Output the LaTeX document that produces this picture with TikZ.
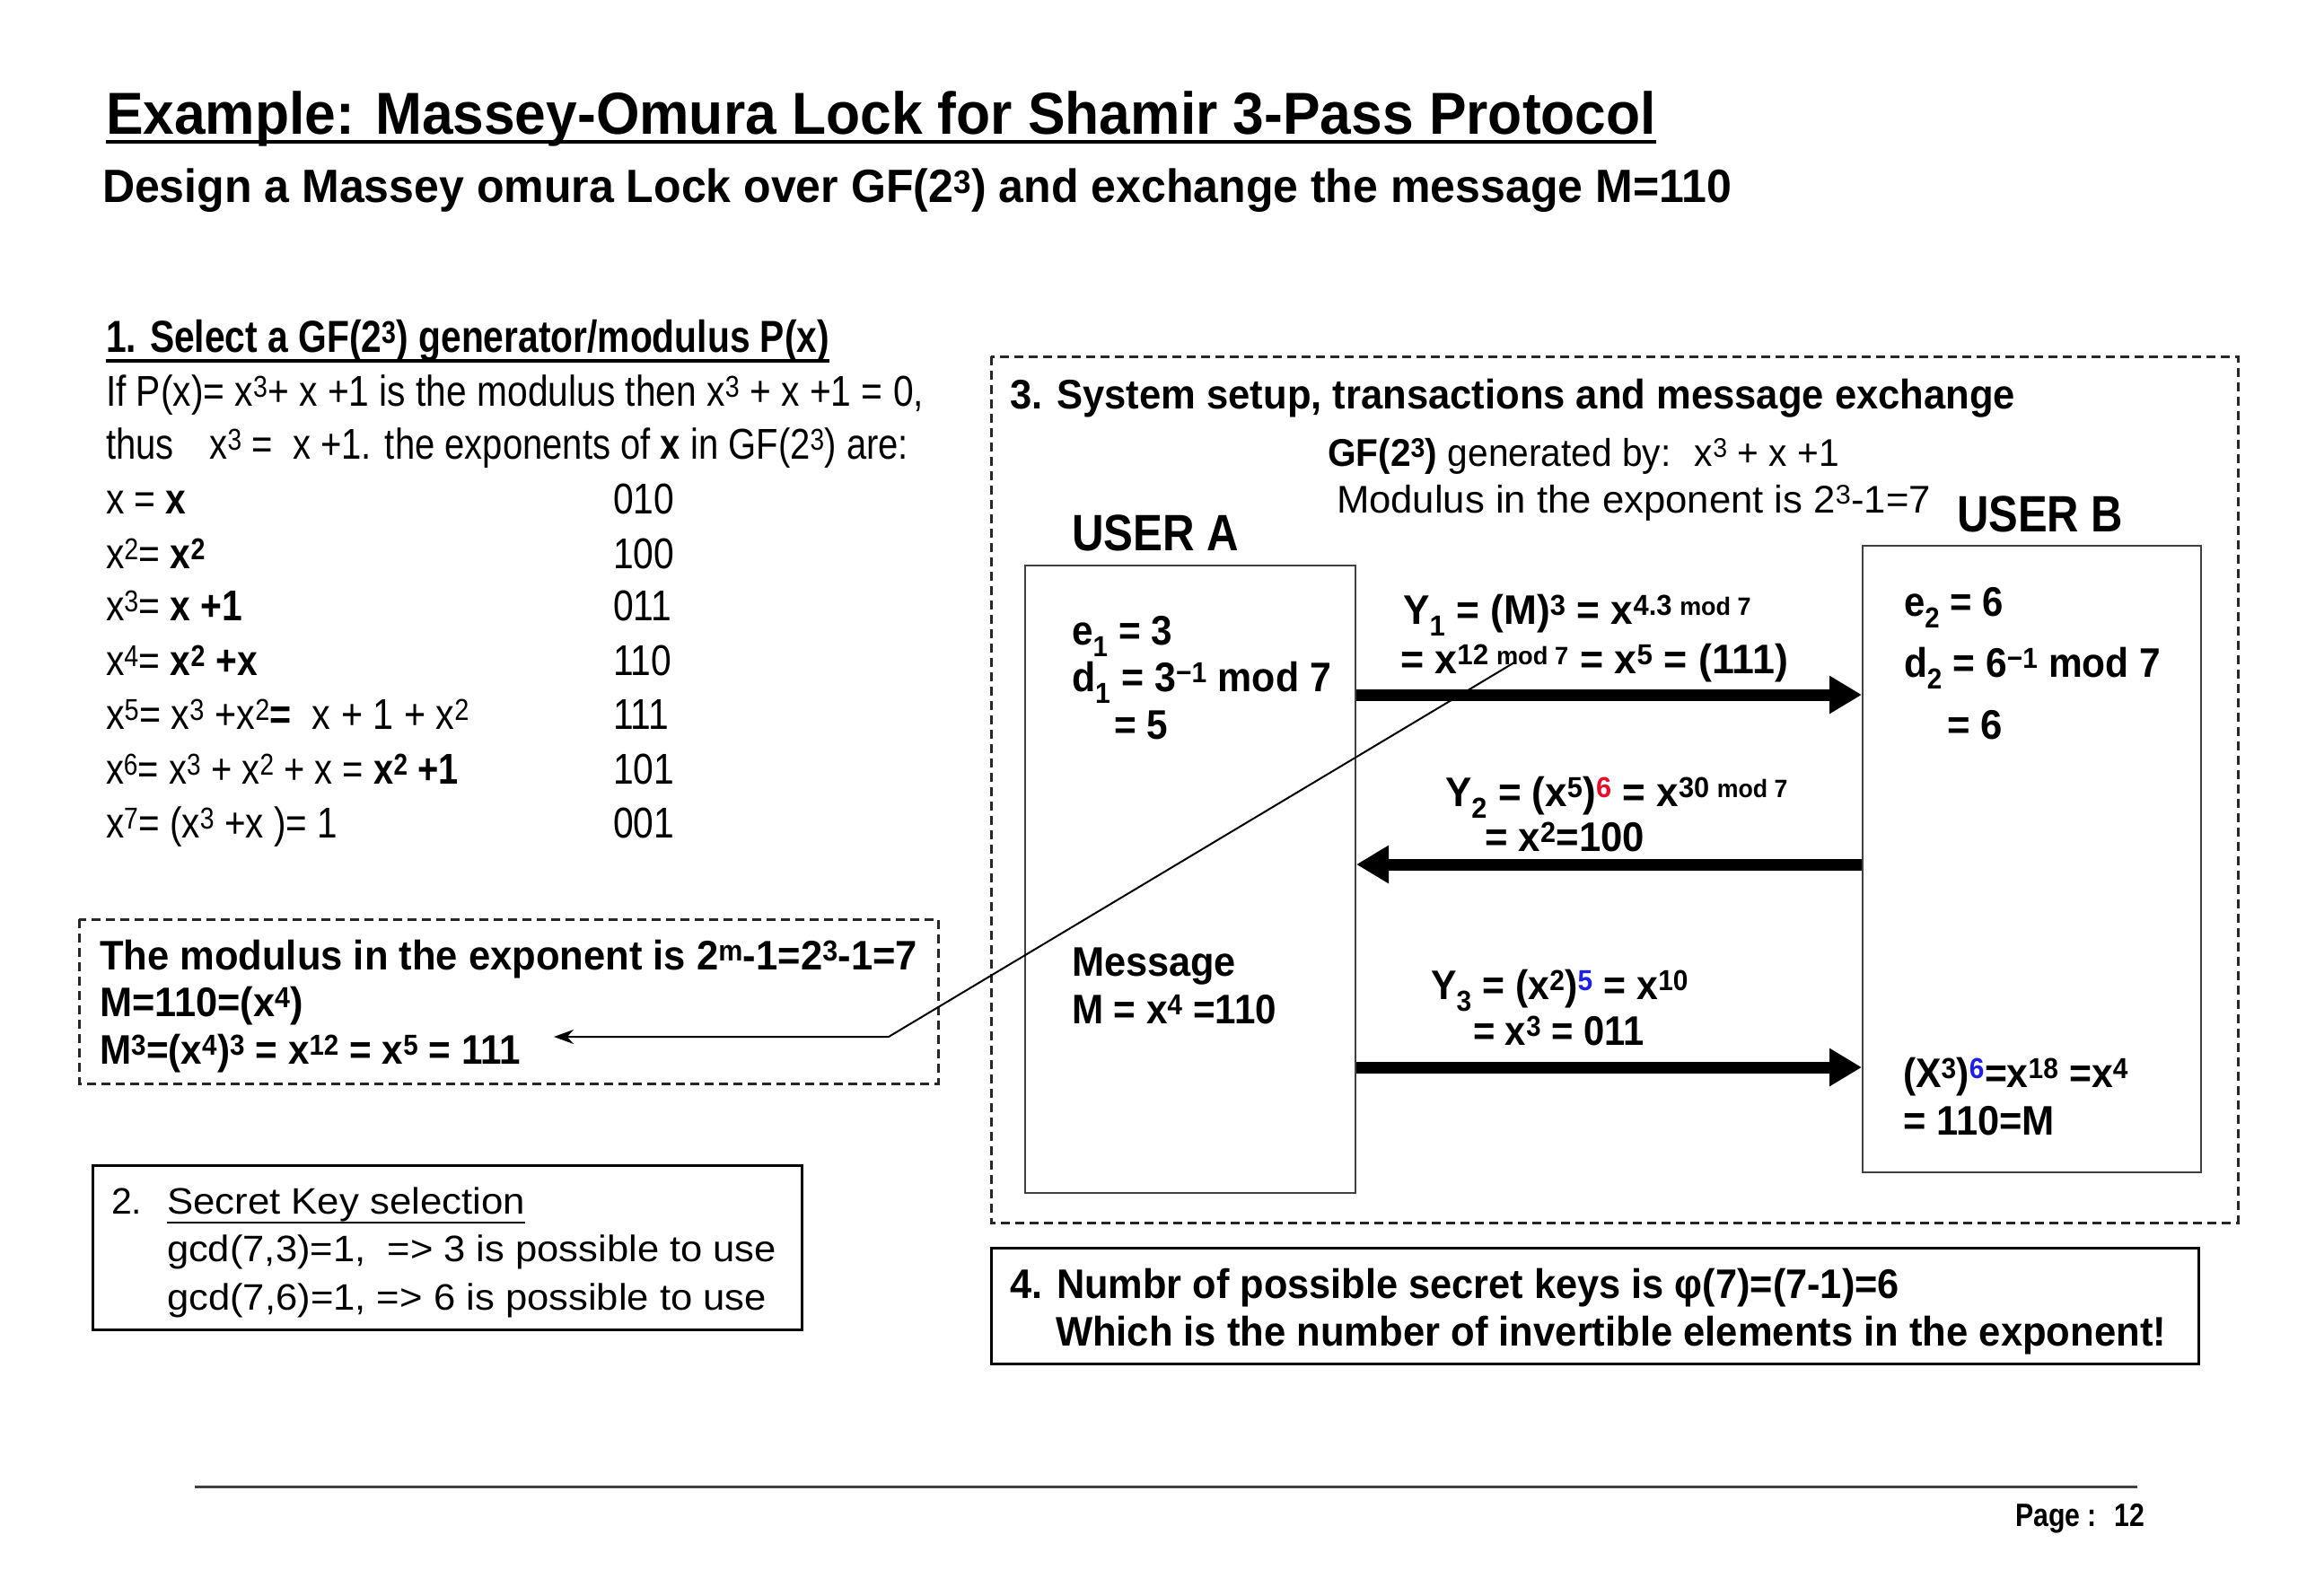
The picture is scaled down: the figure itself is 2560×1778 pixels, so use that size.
\documentclass[tikz,border=0pt]{standalone}
\usepackage{fontspec}
\usepackage{graphicx}
\setmainfont{Liberation Sans}
\newfontfamily\nar[FakeStretch=0.85]{Liberation Sans}
\usetikzlibrary{arrows.meta}
\newcommand{\fw}[2]{\resizebox{#1pt}{\height}{#2}}
\newcommand{\fs}[1]{\fontsize{#1}{#1}\selectfont}
\newcommand{\up}[1]{\textsuperscript{#1}}
\newcommand{\dn}[1]{\textsubscript{#1}}
\definecolor{rd}{HTML}{E0102F}
\definecolor{bl}{HTML}{2020E0}
\begin{document}
\begin{tikzpicture}[x=1pt,y=-1pt,
  txt/.style={anchor=base west, inner sep=0pt, outer sep=0pt},
  dbox/.style={draw=black!85, line width=3pt, dash pattern=on 10pt off 6pt},
  sbox/.style={draw=black, line width=3pt},
  ubox/.style={draw=black!75, line width=2pt, anchor=north west, inner sep=0pt},
  bigarrow/.style={line width=13pt, -{Triangle[length=36pt,width=40pt]}},
  link/.style={line width=2pt, -{Stealth[length=22pt,width=16pt]}}]
\useasboundingbox (0,0) rectangle (2560,1778);
\fill[white] (0,0) rectangle (2560,1778);

% title
\node[txt] (title) at (118,149) {\fs{66}\bfseries\fw{1727}{Example: Massey-Omura Lock for Shamir 3-Pass Protocol}};
\draw[line width=4.5pt] (118,158) -- (1845,158);
\node[txt] (subtitle) at (114,225) {\fs{52}\bfseries\fw{1815}{Design a Massey omura Lock over GF(2\up{3}) and exchange the message M=110}};

% section 1
\node[txt] (s1h) at (118,392) {\fs{50}\bfseries\fw{806}{1. Select a GF(2\up{3}) generator/modulus P(x)}};
\draw[line width=4pt] (118,402) -- (924,402);
\node[txt] (s1a) at (118,452) {\fs{48}\fw{911}{If P(x)= x\up{3}+ x +1 is the modulus then x\up{3} + x +1 = 0,}};
\node[txt] (s1b) at (118,511) {\fs{48}\fw{894}{thus\quad x\up{3} = \ x +1. the exponents of \textbf{x} in GF(2\up{3}) are:}};

\node[txt] (r1) at (118,572) {\nar\fs{48}x = \textbf{x}};
\node[txt] (r2) at (118,633) {\nar\fs{48}x\up{2}= \textbf{x\up{2}}};
\node[txt] (r3) at (118,691) {\nar\fs{48}x\up{3}= \textbf{x +1}};
\node[txt] (r4) at (118,752) {\nar\fs{48}x\up{4}= \textbf{x\up{2} +x}};
\node[txt] (r5) at (118,812) {\nar\fs{48}\fw{405}{x\up{5}= x\up{3} +x\up{2}\textbf{=} \ x + 1 + x\up{2}}};
\node[txt] (r6) at (118,873) {\nar\fs{48}\fw{393}{x\up{6}= x\up{3} + x\up{2} + x = \textbf{x\up{2} +1}}};
\node[txt] (r7) at (118,933) {\nar\fs{48}\fw{258}{x\up{7}= (x\up{3} +x )= 1}};
\node[txt] (v1) at (683,572) {\nar\fs{48}010};
\node[txt] (v2) at (683,633) {\nar\fs{48}100};
\node[txt] (v3) at (683,691) {\nar\fs{48}011};
\node[txt] (v4) at (683,752) {\nar\fs{48}110};
\node[txt] (v5) at (683,812) {\nar\fs{48}111};
\node[txt] (v6) at (683,873) {\nar\fs{48}101};
\node[txt] (v7) at (683,933) {\nar\fs{48}001};

% dashed box (modulus)
\draw[dbox] (88,1024) rectangle (1045,1207);
\node[txt] (m1) at (111,1080) {\fs{46}\bfseries\fw{911}{The modulus in the exponent is 2\up{m}-1=2\up{3}-1=7}};
\node[txt] (m2) at (111,1132) {\fs{46}\bfseries\fw{227}{M=110=(x\up{4})}};
\node[txt] (m3) at (111,1185) {\fs{46}\bfseries\fw{469}{M\up{3}=(x\up{4})\up{3} = x\up{12} = x\up{5} = 111}};

% box 2
\draw[sbox] (103,1298) rectangle (893,1481);
\node[txt] (k0) at (124,1352) {\fs{41}2.};
\node[txt] (k1) at (186,1352) {\fs{41}\fw{399}{Secret Key selection}};
\draw[line width=2.5pt] (186,1362) -- (585,1362);
\node[txt] (k2) at (186,1405) {\fs{41}\fw{679}{gcd(7,3)=1, \ => 3 is possible to use}};
\node[txt] (k3) at (186,1459) {\fs{41}\fw{668}{gcd(7,6)=1, => 6 is possible to use}};

% box 3
\draw[dbox] (1104,397) rectangle (2493,1362);
\node[txt] (h3) at (1125,455) {\fs{46}\bfseries\fw{1120}{3. System setup, transactions and message exchange}};
\node[txt] (gf) at (1479,519) {\fs{43}\fw{570}{\textbf{GF(2\up{3})} generated by: \ x\up{3} + x +1}};
\node[txt] (md) at (1489,571) {\fs{43}\fw{662}{Modulus in the exponent is 2\up{3}-1=7}};
\node[txt] (una) at (1194,613) {\fs{57}\bfseries\fw{186}{USER A}};
\node[txt] (unb) at (2180,592) {\fs{57}\bfseries\fw{185}{USER B}};

\node[ubox, minimum width=368pt, minimum height=699pt] (ua) at (1141,629) {};
\node[ubox, minimum width=377pt, minimum height=698pt] (ub) at (2074,607) {};

\node[txt] (e1) at (1194,718) {\fs{46}\bfseries\fw{112}{e\dn{1} = 3}};
\node[txt] (d1) at (1194,770) {\fs{46}\bfseries\fw{289}{d\dn{1} = 3\up{−1} mod 7}};
\node[txt] (f1) at (1241,823) {\fs{46}\bfseries\fw{60}{= 5}};
\node[txt] (ms) at (1194,1087) {\fs{46}\bfseries\fw{183}{Message}};
\node[txt] (mm) at (1194,1140) {\fs{46}\bfseries\fw{228}{M = x\up{4} =110}};

\node[txt] (e2) at (2121,686) {\fs{46}\bfseries\fw{111}{e\dn{2} = 6}};
\node[txt] (d2) at (2121,754) {\fs{46}\bfseries\fw{286}{d\dn{2} = 6\up{−1} mod 7}};
\node[txt] (f2) at (2169,823) {\fs{46}\bfseries\fw{62}{= 6}};
\node[txt] (x3) at (2120,1211) {\fs{46}\bfseries\fw{251}{(X\up{3})\up{\textcolor{bl}{6}}=x\up{18} =x\up{4}}};
\node[txt] (x4) at (2120,1264) {\fs{46}\bfseries\fw{169}{= 110=M}};

% arrow labels
\node[txt] (y1a) at (1563,695) {\fs{46}\bfseries\fw{388}{Y\dn{1} = (M)\up{3} = x\up{4.3 {\fs{28}mod 7}}}};
\node[txt] (y1b) at (1560,750) {\fs{46}\bfseries\fw{432}{= x\up{12 {\fs{28}mod 7}} = x\up{5} = (111)}};
\node[txt] (y2a) at (1610,898) {\fs{46}\bfseries\fw{382}{Y\dn{2} = (x\up{5})\up{\textcolor{rd}{6}} = x\up{30 {\fs{28}mod 7}}}};
\node[txt] (y2b) at (1654,948) {\fs{46}\bfseries\fw{178}{= x\up{2}=100}};
\node[txt] (y3a) at (1594,1113) {\fs{46}\bfseries\fw{287}{Y\dn{3} = (x\up{2})\up{\textcolor{bl}{5}} = x\up{10}}};
\node[txt] (y3b) at (1641,1164) {\fs{46}\bfseries\fw{191}{= x\up{3} = 011}};

% big arrows
\coordinate (ya) at (0,774);
\coordinate (yb) at (0,963);
\coordinate (yc) at (0,1189);
\draw[bigarrow] (ua.east |- ya) -- (ub.west |- ya);
\draw[bigarrow] (ub.west |- yb) -- (ua.east |- yb);
\draw[bigarrow] (ua.east |- yc) -- (ub.west |- yc);

% thin link arrow
\coordinate (lnkA) at (1687,738);
\coordinate (lnkB) at (990,1155);
\coordinate (lnkC) at (617,1155);
\draw[link] (lnkA) -- (lnkB) -- (lnkC);

% box 4
\draw[sbox] (1104,1390) rectangle (2449,1519);
\node[txt] (n1) at (1125,1446) {\fs{46}\bfseries\fw{991}{4. Numbr of possible secret keys is φ(7)=(7-1)=6}};
\node[txt] (n2) at (1176,1499) {\fs{46}\bfseries\fw{1237}{Which is the number of invertible elements in the exponent!}};

% footer
\draw[line width=3pt, black!75] (217,1656) -- (2381,1656);
\node[txt] (pg) at (2245,1700) {\fs{36}\bfseries\fw{144}{Page : \ 12}};
\end{tikzpicture}
\end{document}
